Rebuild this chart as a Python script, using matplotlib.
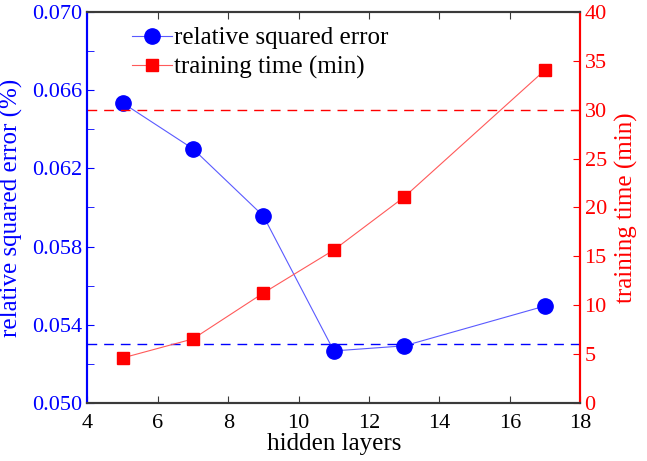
import numpy as np
import matplotlib.pyplot as plt
from matplotlib.ticker import MultipleLocator, FixedLocator, FormatStrFormatter

plt.rcParams["font.family"] = ["Liberation Serif", "DejaVu Serif"]

hidden_layers = [5, 7, 9, 11, 13, 17]
rel_error = [0.06535, 0.0630, 0.05956, 0.05266, 0.05292, 0.05496]
train_time = [4.6, 6.55, 11.25, 15.65, 21.07, 34.07]
error_ref = 0.0530
time_ref = 30

azul = "#0000ff"
azul_claro = "#5a5aff"
vermelho = "#ff0000"
vermelho_claro = "#ff5a5a"
cinza = "#3a3a3a"

fig, ax = plt.subplots(figsize=(6.47, 4.61), dpi=100)
fig.subplots_adjust(left=0.135, right=0.897, top=0.974, bottom=0.126)
ax2 = ax.twinx()

ax.axhline(error_ref, color=azul, ls=(0, (7, 5)), lw=1.0)
ax2.axhline(time_ref, color=vermelho, ls=(0, (7, 5)), lw=1.0)

l1, = ax.plot(hidden_layers, rel_error, color=azul_claro, lw=0.8,
              marker="o", ms=11, mfc=azul, mec=azul, label="relative squared error")
l2, = ax2.plot(hidden_layers, train_time, color=vermelho_claro, lw=0.8,
               marker="s", ms=8.5, mfc=vermelho, mec=vermelho, label="training time (min)")

ax.set_xlim(4, 18)
ax.set_ylim(0.050, 0.070)
ax2.set_ylim(0, 40)
ax.xaxis.set_major_locator(MultipleLocator(2))
ax.yaxis.set_major_locator(FixedLocator(np.arange(0.050, 0.0701, 0.004)))
ax.yaxis.set_minor_locator(FixedLocator(np.arange(0.052, 0.0701, 0.004)))
ax.yaxis.set_major_formatter(FormatStrFormatter("%.3f"))
ax2.yaxis.set_major_locator(MultipleLocator(5))

ax.tick_params(axis="x", direction="in", top=True, length=5, labelsize=16,
               colors=cinza, labelcolor="black", pad=8)
ax.tick_params(axis="y", which="both", direction="in", length=5, labelsize=16,
               colors=azul, pad=4)
ax2.tick_params(axis="y", direction="in", length=5, labelsize=16,
                colors=vermelho, pad=3)

for a in (ax, ax2):
    a.spines["top"].set_color(cinza)
    a.spines["bottom"].set_color(cinza)
    a.spines["left"].set_color(azul)
    a.spines["right"].set_color(vermelho)
    for s in a.spines.values():
        s.set_linewidth(1.5)

ax.set_xlabel("hidden layers", fontsize=18, labelpad=0)
ax.set_ylabel("relative squared error (%)", fontsize=18, color=azul, labelpad=6)
ax2.set_ylabel("training time (min)", fontsize=18, color=vermelho, labelpad=6)

ax.legend(handles=[l1, l2], loc="upper left", bbox_to_anchor=(0.06, 1.0),
          frameon=False, fontsize=18, handlelength=1.6, handletextpad=0.1,
          labelspacing=0.25, borderaxespad=0.2)

plt.savefig("out.png", dpi=100)
